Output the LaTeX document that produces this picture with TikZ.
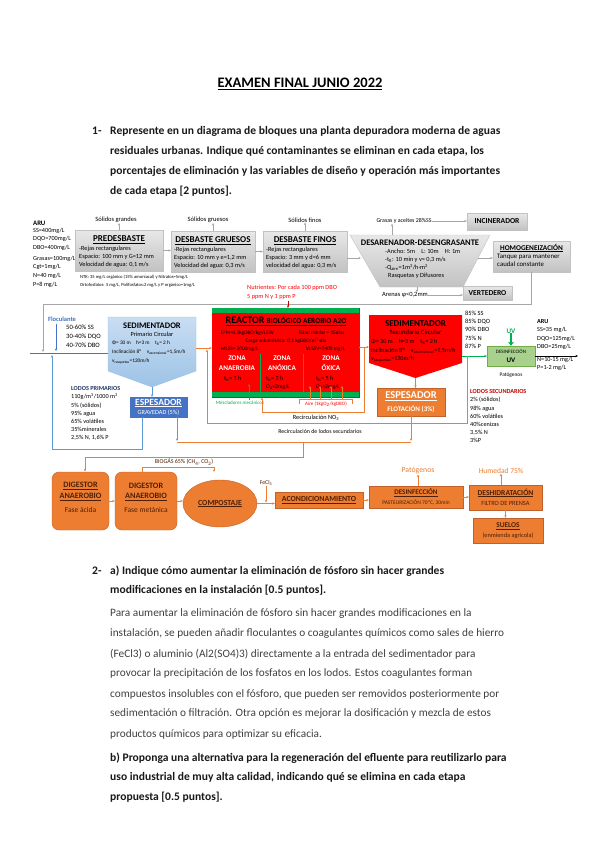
\documentclass[tikz,border=0pt]{standalone}
\usepackage{fontspec}
\setmainfont{Carlito}
\usetikzlibrary{arrows.meta,shapes.geometric}
\definecolor{orC}{HTML}{ED7D31}
\definecolor{orD}{HTML}{C0602A}
\definecolor{grA}{HTML}{E8E8E8}
\definecolor{grB}{HTML}{C2C2C2}
\definecolor{grL}{HTML}{A6A6A6}
\definecolor{rdC}{HTML}{FF0000}
\definecolor{rdD}{HTML}{C00000}
\definecolor{gnC}{HTML}{00B050}
\definecolor{blL}{HTML}{C9DDF2}
\definecolor{blM}{HTML}{9DC3E6}
\definecolor{blA}{HTML}{5B9BD5}
\definecolor{blD}{HTML}{4472C4}
\definecolor{blN}{HTML}{1F3864}
\definecolor{brT}{HTML}{4F1F05}
\definecolor{txG}{HTML}{404040}
\definecolor{uvF}{HTML}{A9D18E}
\definecolor{uvD}{HTML}{70AD47}
\newcommand{\fs}[2]{\fontsize{#1}{#2}\selectfont}
\begin{document}
\begin{tikzpicture}[x=1pt,y=-1pt,
  qb/.style={font=\bfseries\fs{11.55}{14}, anchor=west, inner sep=0pt, text=black!90},
  qp/.style={font=\fs{11.3}{14}, anchor=west, inner sep=0pt, text=txG},
  graybox/.style={draw=grB, top color=grA, bottom color=grB, inner sep=0pt},
  tt/.style={font=\bfseries\fs{9}{10}, inner sep=0pt},
  sm/.style={font=\fs{6.3}{8}, inner sep=0pt, align=left},
  tx/.style={font=\fs{5.3}{7}, inner sep=0pt},
  lb/.style={font=\fs{6.5}{8}, inner sep=0pt},
  arw/.style={-{Stealth[length=2.6pt,width=2.4pt]}, line width=0.5pt},
  gline/.style={arw, draw=grL},
  oline/.style={arw, draw=orC, line width=0.7pt},
  bline/.style={arw, draw=blA, line width=0.7pt},
  orbox/.style={draw=orD, fill=orC, inner sep=0pt},
  bt/.style={font=\bfseries\fs{8.2}{9}, text=brT, inner sep=0pt},
  bs/.style={font=\fs{7.5}{8}, text=brT, inner sep=0pt},
]
\useasboundingbox[fill=white] (0,0) rectangle (599,848);

% ---------- Question texts ----------
\node[font=\bfseries\fs{14.5}{16}, inner sep=0pt] (title) at (300,84) {\underline{EXAMEN FINAL JUNIO 2022}};
\node[qb] (q1n) at (92,131) {1-};
\node[qb] (q1a) at (110,131) {Represente en un diagrama de bloques una planta depuradora moderna de aguas};
\node[qb] (q1b) at (110,151) {residuales urbanas. Indique qué contaminantes se eliminan en cada etapa, los};
\node[qb] (q1c) at (110,171) {porcentajes de eliminación y las variables de diseño y operación más importantes};
\node[qb] (q1d) at (110,191) {de cada etapa [2 puntos].};

\node[qb] (q2n) at (92,571) {2-};
\node[qb] (q2a) at (110,571) {a) Indique cómo aumentar la eliminación de fósforo sin hacer grandes};
\node[qb] (q2b) at (110,590) {modificaciones en la instalación [0.5 puntos].};
\node[qp] (p1) at (110,614) {Para aumentar la eliminación de fósforo sin hacer grandes modificaciones en la};
\node[qp] (p2) at (110,634) {instalación, se pueden añadir floculantes o coagulantes químicos como sales de hierro};
\node[qp] (p3) at (110,654) {(FeCl3) o aluminio (Al2(SO4)3) directamente a la entrada del sedimentador para};
\node[qp] (p4) at (110,674) {provocar la precipitación de los fosfatos en los lodos. Estos coagulantes forman};
\node[qp] (p5) at (110,694) {compuestos insolubles con el fósforo, que pueden ser removidos posteriormente por};
\node[qp] (p6) at (110,714) {sedimentación o filtración. Otra opción es mejorar la dosificación y mezcla de estos};
\node[qp] (p7) at (110,734) {productos químicos para optimizar su eficacia.};
\node[qb] (q2c) at (110,758) {b) Proponga una alternativa para la regeneración del efluente para reutilizarlo para};
\node[qb] (q2d) at (110,777) {uso industrial de muy alta calidad, indicando qué se elimina en cada etapa};
\node[qb] (q2e) at (110,797) {propuesta [0.5 puntos].};

% ---------- ARU input ----------
\node[font=\bfseries\fs{6.8}{7}, inner sep=0pt, anchor=west] (aruT) at (33,223) {ARU};
\node[sm, anchor=north west, font=\fs{6.2}{8.8}] (aru1) at (33,227.5) {SS=400mg/L\\DQO=700mg/L\\DBO=400mg/L};
\node[sm, anchor=north west, font=\fs{6.2}{8.5}] (aru2) at (33,255.5) {Grasas=100mg/L\\Cgt=1mg/L};
\node[sm, anchor=north west, font=\fs{6.2}{8.5}] (aru3) at (33,273) {N=40 mg/L\\P=8 mg/L};
\node[tx, anchor=west, font=\fs{4.6}{6}] (ntk) at (80,277) {NTK: 35 mg/L orgánico (15\% amoniacal) y Nitratos=5mg/L};
\node[tx, anchor=west, font=\fs{4.6}{6}] (orto) at (80,285) {Ortofosfatos: 5 mg/L, Polifosfatos:2 mg/L y P orgánico=1mg/L};

% ---------- Top row (gray) ----------
\node[graybox, minimum width=88pt, minimum height=41pt] (pre) at (119,250.5) {};
\node[tt] (preT) at (119,240) {\underline{PREDESBASTE}};
\node[sm, anchor=north west] (preB) at (79,246) {-Rejas rectangulares\\Espacio: 100 mm y G=12 mm\\Velocidad de agua: 0,1 m/s};
\node[graybox, minimum width=84pt, minimum height=41pt] (gru) at (213,251.5) {};
\node[tt] (gruT) at (213,241) {\underline{DESBASTE GRUESOS}};
\node[sm, anchor=north west] (gruB) at (174,247) {-Rejas rectangulares\\Espacio: 10 mm y e=1,2 mm\\Velocidad del agua: 0,3 m/s};
\node[graybox, minimum width=84pt, minimum height=41pt] (fin) at (305,251.5) {};
\node[tt] (finT) at (305,241) {\underline{DESBASTE FINOS}};
\node[sm, anchor=north west] (finB) at (266,247) {-Rejas rectangulares\\Espacio: 3 mm y d=6 mm\\velocidad del agua: 0,3 m/s};

\node[lb] (sg1) at (116,220) {Sólidos grandes};
\node[lb] (sg2) at (208,220) {Sólidos gruesos};
\node[lb] (sg3) at (305,220) {Sólidos finos};
\draw[gline] (pre.north) -- (pre.north |- sg1.south);
\draw[gline] (gru.north) -- (gru.north |- sg2.south);
\draw[gline] (fin.north) -- (sg3.south);

\shade[top color=grA, bottom color=grB, draw=grB] (350,235) -- (490,235) -- (463,287) -- (380,287) -- cycle;
\coordinate (desL) at (361,258);
\coordinate (desR) at (478,258);
\coordinate (desT) at (392,235);
\coordinate (desB) at (417,287);
\node[tt, font=\bfseries\fs{8.5}{10}] (desTt) at (420,243) {DESARENADOR-DESENGRASANTE};
\node[sm, anchor=north west] (desBt) at (385,249) {-Ancho: 5m\quad L: 10m\quad H: 1m\\-t\textsubscript{R}: 10 min y v= 0,3 m/s\\-Q\textsubscript{aire}=1m\textsuperscript{3}/h·m\textsuperscript{2}\\\hspace*{3pt}Rasquetas y Difusores};

\node[graybox, minimum width=60pt, minimum height=17pt, font=\bfseries\fs{7.6}{8}] (inc) at (497,221.5) {INCINERADOR};
\node[graybox, minimum width=49pt, minimum height=14pt, font=\bfseries\fs{7.6}{8}] (ver) at (487.5,293) {VERTEDERO};
\node[graybox, minimum width=77pt, minimum height=31pt] (hom) at (531.5,256.5) {};
\node[font=\bfseries\fs{7.3}{8}, inner sep=0pt] (homT) at (531.5,248) {\underline{HOMOGENEIZACIÓN}};
\node[sm, anchor=north west, font=\fs{6.8}{8}] (homB) at (497,253.5) {Tanque para mantener\\caudal constante};

\node[lb, font=\fs{5.9}{7}] (gra) at (404,221) {Grasas y aceites 28\%SS};
\node[lb] (are) at (405,295) {Arenas φ<0,2mm};

\draw[gline] (pre.east) -- (pre.east -| gru.west);
\draw[gline] (gru.east) -- (fin.west);
\draw[gline] (fin.east |- desL) -- (desL);
\draw[gline] (desR) -- (desR -| hom.west);
\draw[gline] (desT) -- (desT |- gra.south);
\draw[gline] (gra.east) -- (gra.east -| inc.west);
\draw[gline] (desB) -- (desB |- are.north);
\draw[gline] (are.east) -- (are.east -| ver.west);
\draw[gline] (hom.south) -- (531.5,304) -- (43,304) -- (43,352);

% ---------- Primary treatment ----------
\coordinate (spL) at (108,353);
\coordinate (spR) at (196,348);
\coordinate (spP) at (152,387);
\draw[line width=0.9pt, draw=blD] (30,353) -- (spL);
\shade[top color=blL, bottom color=blM, draw=blM] (108,317) -- (196,317) -- (196,371) -- (spP) -- (108,371) -- cycle;
\node[font=\bfseries\fs{8.5}{9}, inner sep=0pt] (spT) at (152,326) {SEDIMENTADOR};
\node[font=\fs{6.3}{7}, inner sep=0pt] (spS) at (152,334.5) {Primario Circular};
\node[tx, anchor=west, font=\fs{5.3}{6}] (sp1) at (112,343) {Φ= 30 m\quad h=3 m\quad t\textsubscript{R}= 2 h};
\node[tx, anchor=west, font=\fs{5.3}{6}] (sp2) at (112,352.5) {Inclinación 8º\quad v\textsubscript{ascensional}=1,5m/h};
\node[tx, anchor=west, font=\fs{5.3}{6}] (sp3) at (112,361.5) {v\textsubscript{rasquetas}=120m/h};

\node[font=\bfseries\fs{6.5}{7}, text=blD, inner sep=0pt] (flo) at (62,319) {Floculante};
\coordinate (floA) at (56,323.5);
\draw[bline, draw=blD] (floA) -- (56,351);
\node[tx, anchor=north west, align=left, font=\fs{6.6}{8.8}] (rem1) at (66,325) {50-60\% SS\\30-40\% DQO\\40-70\% DBO};

\node[draw=blD, fill=blD, inner sep=0pt, minimum width=57pt, minimum height=20pt] (eg) at (158.5,407) {};
\node[font=\bfseries\fs{9.5}{10}, text=white, inner sep=0pt] (egT) at (158.5,403) {\underline{ESPESADOR}};
\node[font=\fs{6.3}{7}, text=white, inner sep=0pt] (egS) at (158.5,413) {GRAVEDAD (5\%)};
\draw[bline] (spP) -- (spP |- eg.north);

\node[tx, anchor=north west, align=left, font=\fs{6.2}{8.2}] (lp) at (71,386.5) {\textbf{\textcolor{blN}{LODOS PRIMARIOS}}\\110g/m\textsuperscript{3}/1000 m\textsuperscript{3}\\5\% (sólidos)\\95\% agua\\65\% volátiles\\35\%minerales\\2,5\% N, 1,6\% P};

\draw[bline] (142,417) -- (142,449) -- (52,449) -- (52,355);
\draw[bline] (177,417) -- (177,441);

% ---------- Reactor ----------
\node[draw=rdC, fill=rdC, minimum width=147pt, minimum height=89pt, inner sep=0pt] (rea) at (285.5,352.5) {};
\fill[gnC] (212,308) rectangle (359,313);
\fill[gnC] (212,392) rectangle (359,397);
\draw[gnC, line width=0.7pt] (260,354) -- (260,392);
\draw[gnC, line width=0.7pt] (303,354) -- (303,392);
\node[inner sep=0pt] (reaT) at (286,321) {\underline{\bfseries\fs{10}{10}REACTOR \fs{7.4}{8}BIOLÓGICO AEROBIO A2O}};
\node[tx, anchor=west] (rea1) at (221,333) {F/M=0,5kgDBO/kgVLSSV};
\node[tx, anchor=west] (rea2) at (299,333) {Edad celular = 15días};
\node[tx] (rea3) at (286,341) {Carga volumétrica: 0,1 kgDBO/m\textsuperscript{3}·día};
\node[tx, anchor=west] (rea4) at (221,349) {MLSS= 3000mg/L};
\node[tx, anchor=west] (rea5) at (306,349) {VLSSV=2400 mg/L};
\node[font=\bfseries\fs{7.2}{10}, text=white, inner sep=0pt, align=center] (z1) at (237,363) {ZONA\\ANAEROBIA};
\node[font=\bfseries\fs{7.2}{10}, text=white, inner sep=0pt, align=center] (z2) at (282,363) {ZONA\\ANÓXICA};
\node[font=\bfseries\fs{7.2}{10}, text=white, inner sep=0pt, align=center] (z3) at (331,363) {ZONA\\ÓXICA};
\node[tx, anchor=west, font=\fs{6.2}{7}] (z1a) at (224,378.5) {t\textsubscript{h}= 1 h};
\node[tx, anchor=west, font=\fs{6.2}{7}] (z2a) at (266,378.5) {t\textsubscript{h}= 2 h};
\node[tx, anchor=west, font=\fs{5.6}{7}] (z2b) at (266,387.5) {O\textsubscript{2}<2mg/L};
\node[tx, anchor=west, font=\fs{6.2}{7}] (z3a) at (316,378.5) {t\textsubscript{h}= 5 h};
\node[tx, anchor=west, font=\fs{5.6}{7}] (z3b) at (316,387.5) {O\textsubscript{2}>2mg/L};

\node[font=\fs{6.3}{7}, text=rdC, inner sep=0pt, anchor=west] (nut1) at (247,288) {Nutrientes: Por cada 100 ppm DBO};
\node[font=\fs{6.3}{7}, text=rdC, inner sep=0pt, anchor=west] (nut2) at (247,296.5) {5 ppm N y 1 ppm P};
\draw[arw, draw=rdD] (288,300.5) -- (rea.north -| 288,0);

\node[font=\fs{5}{6}, text=gnC, inner sep=0pt] (mez) at (240,403) {Mezcladores mecánicos};
\draw[arw, draw=gnC] (249,400) -- (249,384);

\node[font=\fs{5}{6}, text=rdC, inner sep=0pt] (aire) at (326,404) {Aire (1kgO\textsubscript{2}/kgDBO)};
\draw[draw=orC, line width=0.6pt] (299,404) -- (299,399) -- (352,399) -- (352,404);
\foreach \xa in {310,320,331,342} \draw[arw, draw=orC] (\xa,399) -- (\xa,386);

% ---------- Secondary ----------
\coordinate (ssL) at (369,347);
\coordinate (ssR) at (462,356);
\coordinate (ssP) at (415.5,378);
\fill[rdC] (369,315) -- (462,315) -- (462,363) -- (ssP) -- (369,363) -- cycle;
\node[font=\bfseries\fs{9}{9}, inner sep=0pt] (ssT) at (415.5,323.5) {SEDIMENTADOR};
\node[font=\fs{6.6}{7}, inner sep=0pt] (ssS) at (415.5,332.5) {Secundario Circular};
\node[tx, anchor=west, font=\fs{6.1}{6}] (ss1) at (371,342) {Φ= 30 m\quad h=3 m\quad t\textsubscript{R}= 2 h};
\node[tx, anchor=west, font=\fs{6.1}{6}] (ss2) at (371,350.5) {Inclinación 8º\quad v\textsubscript{ascensional}=1,5m/h};
\node[tx, anchor=west, font=\fs{6.1}{6}] (ss3) at (371,359) {v\textsubscript{rasquetas}=120m/h};

\node[tx, anchor=north west, align=left, font=\fs{6.4}{8.4}] (rem2) at (465,310.5) {85\% SS\\85\% DQO\\90\% DBO\\75\% N\\87\% P};

\draw[oline] (spR) -- (spR -| rea.west);
\draw[oline] (rea.east |- ssL) -- (ssL);

\node[draw=uvD, fill=uvF, inner sep=0pt, minimum width=48pt, minimum height=20pt] (uv) at (511,356) {};
\node[font=\fs{5}{6}, inner sep=0pt] (uv1) at (511,351.5) {DESINFECCIÓN};
\node[font=\bfseries\fs{7}{7}, inner sep=0pt] (uv2) at (511,360) {UV};
\node[font=\bfseries\fs{7}{7}, text=gnC, inner sep=0pt] (uvL) at (511,331) {UV};
\draw[-{Stealth[length=4pt,width=6pt]}, draw=gnC, line width=1.6pt] (uvL.south) -- (uv.north);
\node[font=\fs{5.4}{6}, inner sep=0pt] (pat1) at (511,375) {Patógenos};
\draw[arw, draw=gnC, line width=0.8pt] (ssR) -- (ssR -| uv.west);
\coordinate (out) at (578,356);
\draw[arw, line width=0.6pt] (uv.east) -- (out);

\node[font=\bfseries\fs{6.2}{7}, inner sep=0pt, anchor=west] (aruO) at (537,322) {ARU};
\node[tx, anchor=north west, align=left, font=\fs{6.2}{8.5}] (aruO1) at (537,327) {SS=35 mg/L\\DQO=125mg/L\\DBO=25mg/L};
\node[tx, anchor=north west, align=left, font=\fs{6.2}{8}] (aruO2) at (537,356.5) {N=10-15 mg/L\\P=1-2 mg/L};

\node[orbox, minimum width=68pt, minimum height=28pt] (ef) at (411,402) {};
\node[font=\bfseries\fs{10.5}{11}, text=white, inner sep=0pt] (efT) at (411,396.5) {\underline{ESPESADOR}};
\node[font=\bfseries\fs{7}{7}, text=white, inner sep=0pt] (efS) at (411,409.5) {FLOTACIÓN (3\%)};
\draw[oline] (ssP) -- (ssP |- ef.north);

\node[tx, anchor=north west, align=left, font=\fs{6.2}{8.2}] (ls) at (470,389.5) {\textbf{\textcolor{rdD}{LODOS SECUNDARIOS}}\\2\% (sólidos)\\98\% agua\\60\% volátiles\\40\%cenizas\\3,5\% N\\3\%P};

% recirculations
\draw[oline] (467,356) -- (467,423) -- (207,423) -- (207,349.5);
\draw[oline] (364,347) -- (364,412) -- (262,412) -- (262,397.5);
\node[tx, font=\fs{6.3}{7}] (rno) at (316,417.5) {Recirculación NO\textsubscript{3}};
\node[tx, font=\fs{5.9}{7}] (rls) at (320,431.5) {Recirculación de lodos secundarios};

\draw[oline] (ef.south) -- (411,441);
\draw[draw=orC, line width=0.7pt] (411,442) -- (177,442);
\draw[oline] (303,442) -- (303,457) -- (85,457) -- (85,471.5);

% ---------- Sludge line ----------
\node[orbox, rounded corners=7pt, minimum width=57pt, minimum height=58pt] (d1) at (80.5,501) {};
\node[bt] (d1T) at (80.5,486) {\underline{DIGESTOR}};
\node[bt] (d1U) at (80.5,497) {\underline{ANAEROBIO}};
\node[bs] (d1S) at (80.5,510) {Fase ácida};
\node[orbox, rounded corners=7pt, minimum width=62pt, minimum height=58pt] (d2) at (146,501) {};
\node[bt] (d2T) at (146,486) {DIGESTOR};
\node[bt] (d2U) at (146,497) {\underline{ANAEROBIO}};
\node[bs] (d2S) at (146,510) {Fase metánica};
\node[orbox, ellipse, minimum width=74pt, minimum height=47pt] (comp) at (220,503.5) {};
\node[bt, font=\bfseries\fs{7.8}{9}] (compT) at (220,503.5) {\underline{COMPOSTAJE}};
\node[orbox, minimum width=88pt, minimum height=16pt] (acond) at (319,500) {};
\node[bt, font=\bfseries\fs{7.8}{8.5}] (acondT) at (319,500) {\underline{ACONDICIONAMIENTO}};
\node[orbox, minimum width=94pt, minimum height=22pt] (desinf) at (416,497) {};
\node[bt, font=\bfseries\fs{7.1}{8}] (desinfT) at (416,493) {\underline{DESINFECCIÓN}};
\node[bs, font=\fs{5.5}{6}] (desinfS) at (416,502.5) {PASTEURIZACIÓN 70ºC, 30min};
\node[orbox, minimum width=73pt, minimum height=25pt] (deshid) at (505.5,497.5) {};
\node[bt, font=\bfseries\fs{7.6}{8}] (deshidT) at (505.5,493) {\underline{DESHIDRATACIÓN}};
\node[bs, font=\fs{6.4}{6}] (deshidS) at (505.5,503) {FILTRO DE PRENSA};
\node[orbox, minimum width=70pt, minimum height=25pt] (suelos) at (508,530.5) {};
\node[bt, font=\bfseries\fs{7.4}{8}] (suelosT) at (508,526) {\underline{SUELOS}};
\node[bs, font=\fs{6.3}{6}] (suelosS) at (508,536) {(enmienda agrícola)};

\node[font=\fs{6}{7}, text=brT, inner sep=0pt] (bio) at (184,462) {BIOGÁS 65\% (CH\textsubscript{4}, CO\textsubscript{2})};
\draw[oline] (142,472) -- (142,467) -- (214,467) -- (214,472);
\node[font=\fs{5.8}{7}, text=brT, inner sep=0pt] (fecl) at (266,483) {FeCl\textsubscript{3}};
\node[font=\fs{7.8}{8}, text=orC, inner sep=0pt] (pat2) at (418,471) {Patógenos};
\node[font=\fs{7.5}{8}, text=orC, inner sep=0pt] (hum) at (501,471) {Humedad 75\%};

\draw[oline] (d1.east) -- (d2.west);
\draw[oline] (d2.east) -- (d2.east -| comp.west);
\draw[oline] (comp.east) -- (comp.east -| acond.west);
\draw[oline] (fecl.south) -- (266,502.5);
\draw[oline] (acond.east) -- (acond.east -| desinf.west);
\draw[oline] (desinf.east) -- (desinf.east -| deshid.west);
\draw[oline] (deshid.south) -- (deshid.south |- suelos.north);
\draw[oline] (pat2.south |- desinf.north) -- (pat2.south);
\draw[oline] (hum.south |- deshid.north) -- (hum.south);
\end{tikzpicture}
\end{document}
